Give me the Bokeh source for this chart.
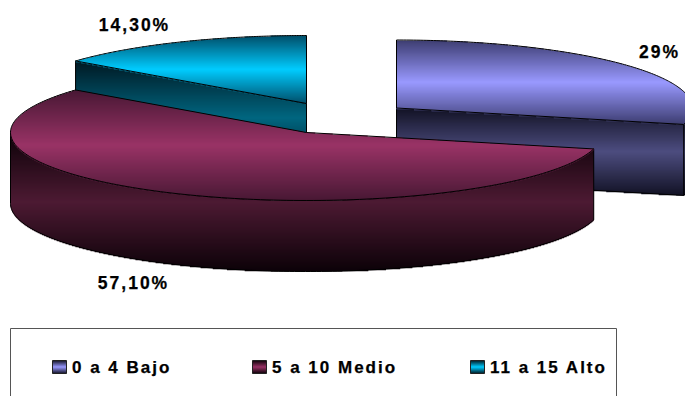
from bokeh.embed import file_html
from bokeh.models import Range1d
from bokeh.plotting import figure
from bokeh.resources import INLINE
from bokeh.core.properties import value
import numpy as np

categories = ["0 a 4 Bajo", "5 a 10 Medio", "11 a 15 Alto"]
shares = [29.0, 57.1, 14.3]
share_labels = ["29%", "57,10%", "14,30%"]

# Bright and dark ends of the shading of each slice, for its top and its walls.
top_mid = [(153, 153, 255), (153, 51, 102), (0, 204, 255)]
top_edge = [(61, 61, 112), (72, 24, 52), (0, 78, 105)]
wall_mid = [(77, 77, 128), (77, 26, 51), (0, 102, 128)]
wall_edge = [(18, 18, 36), (12, 2, 8), (0, 24, 34)]

W, H = 685, 396
RX, RY, DEPTH = 296.0, 68.0, 71.0
CENTERS = [(396.0, 107.5), (306.0, 132.0), (306.0, 103.0)]

p = figure(width=W, height=H, output_backend="svg", toolbar_location=None,
           x_range=Range1d(0, W), y_range=Range1d(H, 0), min_border=0)
p.axis.visible = False
p.grid.visible = False
p.outline_line_color = None
p.background_fill_color = "white"


def rim(cx, cy, a0, a1, n=160):
    t = np.radians(np.linspace(a0, a1, n))
    return cx + RX * np.sin(t), cy - RY * np.cos(t)


def hexcol(c):
    return "#%02x%02x%02x" % tuple(int(round(v)) for v in c)


def shade(xs, ys, y0, y1, mid, edge):
    """Fill a polygon with one-pixel rows, dark towards y0 and y1 and bright midway."""
    xs, ys = np.asarray(xs), np.asarray(ys)
    x2, y2 = np.roll(xs, -1), np.roll(ys, -1)
    left, right, top, bottom, colors = [], [], [], [], []
    first, last = int(np.floor(ys.min())), int(np.ceil(ys.max()))
    for r in range(first, last):
        yc = r + 0.5
        mask = ((ys <= yc) & (y2 > yc)) | ((y2 <= yc) & (ys > yc))
        cross = np.sort(xs[mask] + (yc - ys[mask]) / (y2[mask] - ys[mask]) * (x2[mask] - xs[mask]))
        f = min(1.0, abs(yc - (y0 + y1) / 2) / ((y1 - y0) / 2))
        col = hexcol(np.array(mid) * (1 - f) + np.array(edge) * f)
        for a, b in zip(cross[::2], cross[1::2]):
            left.append(a)
            right.append(b)
            top.append(r)
            # Rows overlap the next one so no seam lets the background through.
            bottom.append(r + 1 if r == last - 1 else r + 1.7)
            colors.append(col)
    if left:
        p.quad(left=left, right=right, top=top, bottom=bottom,
               fill_color=colors, fill_alpha=1.0, line_color=None)


def outline(xs, ys, color="black"):
    p.line(list(xs) + [xs[0]], list(ys) + [ys[0]], line_color=color, line_width=1)


def cut_wall(cx, cy, x, y):
    return np.array([cx, x, x, cx]), np.array([cy, y, y + DEPTH, cy + DEPTH])


def slice_faces(i, a0, a1):
    cx, cy = CENTERS[i]
    ax, ay = rim(cx, cy, a0, a1)
    top_x, top_y = np.r_[cx, ax], np.r_[cy, ay]

    # Only the walls that face the viewer: radial cuts and the front of the rim.
    walls = []
    if a0 > 270:
        walls.append(cut_wall(cx, cy, ax[0], ay[0]))
    if a1 > 90 and a0 < 270:
        fx, fy = rim(cx, cy, max(a0, 90), min(a1, 270))
        walls.append((np.r_[fx, fx[::-1]], np.r_[fy, fy[::-1] + DEPTH]))
    if a1 < 180:
        walls.append(cut_wall(cx, cy, ax[-1], ay[-1]))

    all_y = np.concatenate([w[1] for w in walls])
    for wx, wy in walls:
        shade(wx, wy, all_y.min(), all_y.max(), wall_mid[i], wall_edge[i])
        outline(wx, wy)
    shade(top_x, top_y, top_y.min(), top_y.max(), top_mid[i], top_edge[i])
    outline(top_x, top_y)


ends = np.cumsum(shares) / sum(shares) * 360
starts = np.r_[0, ends[:-1]]
# Painted back to front so the large slice overlaps its neighbours.
for i in (0, 2, 1):
    slice_faces(i, starts[i], ends[i])

FONT = value("Liberation Sans")

# Value labels
p.text(x=[656, 127, 128], y=[51, 282, 24], text=share_labels,
       text_font=FONT, text_font_style="bold", text_font_size="17.5px",
       text_color="black", text_align="center", text_baseline="middle")

# Legend box, open at the bottom of the page
p.line([10, 10, 616, 616], [396, 328, 328, 396], line_color="#555555", line_width=1)
key_x = [52, 252, 470]
for i, kx in enumerate(key_x):
    kxs, kys = [kx, kx + 14, kx + 14, kx], [360, 360, 373, 373]
    shade(kxs, kys, 360, 373, top_mid[i], wall_edge[i])
    outline(kxs, kys, "#222222")
p.text(x=[k + 19.5 for k in key_x], y=[367] * 3, text=categories,
       text_font=FONT, text_font_style="bold", text_font_size="17px",
       text_color="black", text_align="left", text_baseline="middle")

# Widen the tracking of the chart's bold labels once Bokeh has rendered them.
TRACKING = """
<script>
(function () {
  function walk(root, found) {
    root.querySelectorAll('*').forEach(function (el) {
      if (el.tagName.toLowerCase() === 'text') found.push(el);
      if (el.shadowRoot) walk(el.shadowRoot, found);
    });
    return found;
  }
  var tries = 0;
  var timer = setInterval(function () {
    var texts = walk(document, []);
    if (texts.length || ++tries > 100) {
      texts.forEach(function (t) { t.style.letterSpacing = '2px'; t.style.stroke = 'black'; t.style.strokeWidth = '0.25px'; });
      clearInterval(timer);
    }
  }, 20);
})();
</script>
"""
html = file_html(p, INLINE)
open("out.html", "w").write(html.replace("</body>", TRACKING + "</body>"))
